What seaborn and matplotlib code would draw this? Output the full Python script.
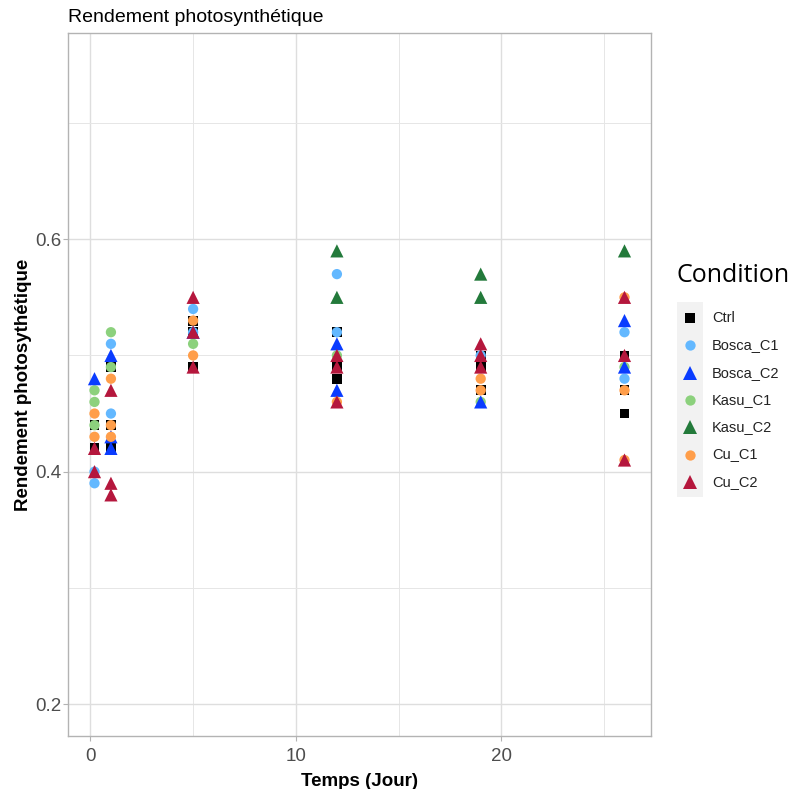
import matplotlib
matplotlib.use("Agg")
import matplotlib.pyplot as plt
from matplotlib.lines import Line2D
from matplotlib.patches import Rectangle
from matplotlib.ticker import FixedLocator
import pandas as pd
import seaborn as sns

# Measurements: day of sampling and photosynthetic yield, per condition
ctrl_day = [0.2, 0.2, 1, 1, 1, 5, 5, 5, 12, 12, 12, 19, 19, 19, 26, 26, 26]
ctrl_val = [0.44, 0.42, 0.49, 0.44, 0.42, 0.53, 0.52, 0.49, 0.52, 0.49, 0.48, 0.50, 0.49, 0.47, 0.50, 0.47, 0.45]

bosca_c1_day = [0.2, 0.2, 1, 1, 5, 5, 12, 12, 19, 26, 26]
bosca_c1_val = [0.40, 0.39, 0.51, 0.45, 0.54, 0.52, 0.57, 0.52, 0.50, 0.52, 0.48]

bosca_c2_day = [0.2, 1, 1, 1, 5, 12, 12, 19, 26, 26]
bosca_c2_val = [0.48, 0.50, 0.43, 0.42, 0.52, 0.51, 0.47, 0.46, 0.53, 0.49]

kasu_c1_day = [0.2, 0.2, 0.2, 1, 1, 5, 12, 19, 26]
kasu_c1_val = [0.47, 0.46, 0.44, 0.52, 0.49, 0.51, 0.50, 0.46, 0.49]

kasu_c2_day = [12, 12, 19, 19, 26]
kasu_c2_val = [0.59, 0.55, 0.57, 0.55, 0.59]

cu_c1_day = [0.2, 0.2, 1, 1, 1, 5, 5, 12, 19, 19, 26, 26, 26]
cu_c1_val = [0.45, 0.43, 0.48, 0.44, 0.43, 0.53, 0.50, 0.46, 0.48, 0.47, 0.55, 0.47, 0.41]

cu_c2_day = [0.2, 0.2, 1, 1, 1, 5, 5, 5, 12, 12, 12, 19, 19, 19, 26, 26, 26]
cu_c2_val = [0.42, 0.40, 0.47, 0.39, 0.38, 0.55, 0.52, 0.49, 0.50, 0.49, 0.46, 0.51, 0.50, 0.49, 0.55, 0.50, 0.41]

conditions = ["Ctrl", "Bosca_C1", "Bosca_C2", "Kasu_C1", "Kasu_C2", "Cu_C1", "Cu_C2"]
series = {
    "Ctrl": (ctrl_day, ctrl_val),
    "Bosca_C1": (bosca_c1_day, bosca_c1_val),
    "Bosca_C2": (bosca_c2_day, bosca_c2_val),
    "Kasu_C1": (kasu_c1_day, kasu_c1_val),
    "Kasu_C2": (kasu_c2_day, kasu_c2_val),
    "Cu_C1": (cu_c1_day, cu_c1_val),
    "Cu_C2": (cu_c2_day, cu_c2_val),
}
# rows are stacked in this order, so later groups sit on top
draw_order = ["Ctrl", "Bosca_C1", "Kasu_C1", "Bosca_C2", "Kasu_C2", "Cu_C1", "Cu_C2"]

palette = {
    "Ctrl": "#000000", "Bosca_C1": "#63B8FF", "Bosca_C2": "#0A3CFF",
    "Kasu_C1": "#8CD17D", "Kasu_C2": "#237A3B", "Cu_C1": "#FF9E4A", "Cu_C2": "#B5173D",
}
markers = {
    "Ctrl": "s", "Bosca_C1": "o", "Bosca_C2": "^", "Kasu_C1": "o",
    "Kasu_C2": "^", "Cu_C1": "o", "Cu_C2": "^",
}
marker_area = {"s": 50, "o": 55, "^": 90}
sizes = {c: marker_area[markers[c]] for c in conditions}

frames = [pd.DataFrame({"Temps": series[c][0], "Rendement": series[c][1], "Condition": c})
          for c in draw_order]
df = pd.concat(frames, ignore_index=True)

sns.set_theme(style="white")
plt.rcParams["font.family"] = ["Liberation Sans", "DejaVu Sans"]

W, H = 792, 789
fig = plt.figure(figsize=(W / 100, H / 100), dpi=100)


def fx(px):
    return px / W


def fy(py):
    return 1 - py / H


ax = fig.add_axes([fx(68), fy(736), fx(651) - fx(68), fy(33) - fy(736)])

sns.scatterplot(
    data=df, x="Temps", y="Rendement", hue="Condition", style="Condition",
    size="Condition", hue_order=conditions, style_order=conditions,
    size_order=conditions, palette=palette, markers=markers, sizes=sizes,
    linewidth=0, alpha=1, legend=False, ax=ax, zorder=3,
)

ax.set_xlim(-1.09, 27.29)
ax.set_ylim(0.1725, 0.7775)

ax.xaxis.set_major_locator(FixedLocator([0, 10, 20]))
ax.xaxis.set_minor_locator(FixedLocator([5, 15, 25]))
ax.yaxis.set_major_locator(FixedLocator([0.2, 0.4, 0.6]))
ax.yaxis.set_minor_locator(FixedLocator([0.3, 0.5, 0.7]))
ax.set_yticklabels(["0.2", "0.4", "0.6"])
ax.set_xticklabels(["0", "10", "20"])

ax.grid(True, which="major", color="#DEDEDE", linewidth=1.0, zorder=0)
ax.grid(True, which="minor", color="#E6E6E6", linewidth=0.7, zorder=0)
ax.set_axisbelow(True)

for sp in ax.spines.values():
    sp.set_color("#B3B3B3")
    sp.set_linewidth(1.0)

ax.tick_params(axis="both", which="major", length=3.5, width=0.8, color="#B3B3B3",
               labelsize=13.5, labelcolor="#4D4D4D", bottom=True, left=True)
ax.tick_params(axis="x", which="major", pad=5)
ax.tick_params(axis="y", which="major", pad=1.5)
ax.tick_params(axis="both", which="minor", length=0)

ax.set_xlabel("Temps (Jour)", fontsize=13.5, fontweight="bold", color="black", labelpad=6)
ax.set_ylabel("Rendement photosythétique", fontsize=13.5, fontweight="bold",
              color="black", labelpad=2)

fig.text(fx(68), fy(17), "Rendement photosynthétique", fontsize=14,
         ha="left", va="center", color="black")

# Legend: grey key column, glyphs and labels
fig.add_artist(Rectangle((fx(677), fy(497)), fx(703) - fx(677), fy(302) - fy(497),
                         transform=fig.transFigure, facecolor="#F2F2F2",
                         edgecolor="none", zorder=1))
fig.text(fx(676), fy(275), "Condition", fontsize=18, family=["Open Sans", "DejaVu Sans"],
         ha="left", va="center", color="black")
key_y0, key_step = 318, 27.3
for i, c in enumerate(conditions):
    yy = key_y0 + i * key_step
    fig.add_artist(Line2D([fx(690)], [fy(yy)], transform=fig.transFigure,
                          marker=markers[c], markersize=sizes[c] ** 0.5,
                          color=palette[c], markeredgewidth=0, linestyle="none",
                          zorder=2))
    fig.text(fx(712), fy(yy), c, fontsize=10.5, ha="left", va="center",
             color="#222222")

fig.savefig("out.png", dpi=100)
